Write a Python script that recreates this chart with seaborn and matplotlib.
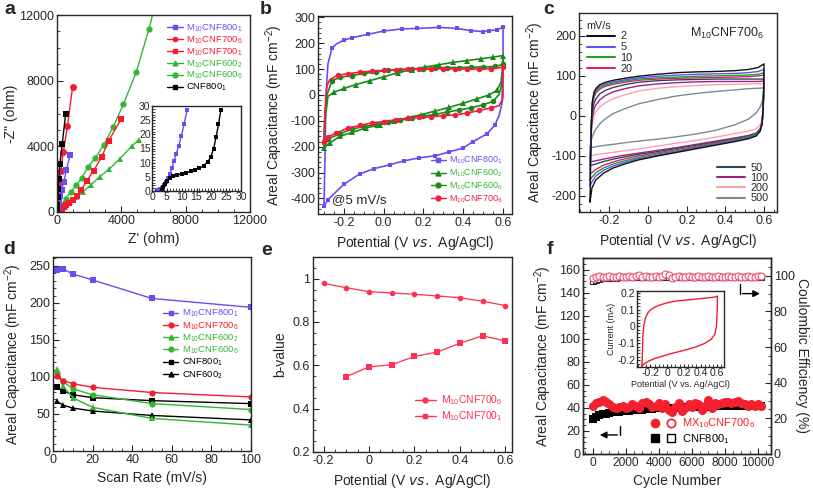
import numpy as np
import pandas as pd
import matplotlib
matplotlib.use('Agg')
import matplotlib.pyplot as plt
import seaborn as sns
from matplotlib.lines import Line2D
from matplotlib.ticker import MultipleLocator, FuncFormatter, AutoMinorLocator
from matplotlib.legend_handler import HandlerTuple

# ---------------- data ----------------
# a: Nyquist plots (Z', -Z'') in ohm
a_800_1_x = [20, 50, 90, 140, 200, 280, 430, 580, 820]
a_800_1_y = [20, 150, 400, 700, 1000, 1370, 1850, 2550, 3500]
a_cnf800_x = [10, 25, 45, 70, 100, 175, 325, 540]
a_cnf800_y = [100, 450, 900, 1400, 2000, 2900, 4150, 6000]
a_700_6_x = [10, 30, 65, 150, 240, 390, 650, 970]
a_700_6_y = [300, 700, 1230, 1780, 2520, 3650, 5230, 7620]
a_700_1_x = [50, 150, 280, 420, 560, 720, 970, 1250, 1510, 1840, 2270, 2770, 3220, 4000]
a_700_1_y = [30, 100, 190, 300, 420, 560, 720, 960, 1330, 1890, 2500, 3340, 4350, 5680]
a_600_6_x = [50, 200, 540, 864, 1188, 1555, 1944, 2376, 2916, 3499, 4126, 4925, 5724, 6150]
a_600_6_y = [80, 300, 820, 1230, 1640, 2091, 2768, 3280, 4100, 5187, 6560, 8508, 11173, 12800]
a_600_2_x = [80, 250, 500, 800, 1200, 1600, 2100, 2657, 3240, 3888, 4644, 5080]
a_600_2_y = [40, 150, 330, 580, 900, 1230, 1650, 2153, 2604, 3219, 3998, 4410]
# a inset
ai_800_1_x = [2.0, 2.8, 3.5, 4.2, 4.8, 5.4, 6.0, 6.7, 7.4, 8.2, 9.0, 9.9, 10.8, 11.8]
ai_800_1_y = [0.2, 0.6, 1.2, 2.2, 3.3, 4.6, 6.0, 8.0, 10.5, 13.2, 16.0, 19.5, 23.5, 28.5]
ai_cnf_x = [3.3, 3.8, 4.3, 5.0, 6.0, 7.0, 8.5, 10.0, 11.5, 13.0, 14.5, 16.0, 17.5, 18.8, 19.8, 20.8, 21.6, 22.4, 23.2]
ai_cnf_y = [0.5, 1.5, 2.5, 3.5, 4.5, 5.2, 5.7, 6.1, 6.5, 6.9, 7.4, 8.0, 9.0, 10.3, 12.0, 15.0, 19.0, 23.5, 28.5]

# b: CV at 5 mV/s (closed loops)
b_800_1_x = [-0.30, -0.295, -0.29, -0.28, -0.26, -0.24, -0.20, -0.16, -0.08, 0.00, 0.09, 0.17, 0.28, 0.37, 0.44, 0.50, 0.53, 0.57, 0.60,
             0.60, 0.595, 0.58, 0.56, 0.52, 0.45, 0.40, 0.33, 0.26, 0.18, 0.10, 0.03, -0.05, -0.12, -0.20, -0.28, -0.30]
b_800_1_y = [-430, -250, 0, 120, 180, 196, 212, 221, 234, 247, 255, 257, 261, 257, 248, 245, 248, 252, 261,
             -5, -30, -80, -115, -150, -180, -205, -220, -235, -243, -255, -270, -285, -305, -345, -405, -430]
b_700_6_x = [-0.30, -0.295, -0.285, -0.27, -0.23, -0.18, -0.12, -0.06, 0.00, 0.06, 0.12, 0.18, 0.24, 0.30, 0.36, 0.42, 0.48, 0.54, 0.60,
             0.60, 0.595, 0.58, 0.54, 0.48, 0.42, 0.36, 0.30, 0.24, 0.18, 0.12, 0.06, 0.00, -0.06, -0.12, -0.18, -0.24, -0.28, -0.30]
b_700_6_y = [-180, -60, 35, 60, 76, 82, 88, 92, 95, 97, 99, 100, 101, 101, 100, 100, 100, 102, 107,
             107, -20, -42, -50, -60, -70, -77, -80, -84, -86, -90, -96, -103, -108, -118, -128, -148, -162, -180]
b_600_6_x = [-0.30, -0.295, -0.285, -0.26, -0.22, -0.16, -0.10, -0.04, 0.02, 0.08, 0.14, 0.20, 0.26, 0.32, 0.38, 0.44, 0.50, 0.56, 0.60,
             0.60, 0.597, 0.59, 0.58, 0.55, 0.50, 0.44, 0.38, 0.32, 0.26, 0.20, 0.14, 0.08, 0.02, -0.04, -0.10, -0.16, -0.22, -0.28, -0.30]
b_600_6_y = [-180, -80, 0, 55, 68, 75, 83, 88, 95, 98, 100, 102, 104, 106, 106, 107, 108, 110, 118,
             118, 80, 30, 2, -25, -38, -50, -58, -66, -75, -82, -90, -98, -105, -115, -122, -132, -150, -170, -180]
b_600_2_x = [-0.30, -0.295, -0.28, -0.25, -0.20, -0.14, -0.07, 0.00, 0.07, 0.14, 0.21, 0.28, 0.35, 0.42, 0.49, 0.55, 0.60,
             0.60, 0.597, 0.59, 0.57, 0.53, 0.47, 0.40, 0.33, 0.26, 0.19, 0.12, 0.05, -0.02, -0.09, -0.16, -0.22, -0.27, -0.30]
b_600_2_y = [-205, -100, -5, 10, 25, 40, 55, 70, 85, 98, 108, 117, 126, 133, 140, 146, 152,
             152, 100, 50, 18, 0, -15, -32, -48, -62, -76, -88, -102, -115, -128, -145, -160, -185, -205]

# c: CVs of M10CNF700_6 at different scan rates
c_up_x = [-0.30, -0.297, -0.293, -0.288, -0.28, -0.27, -0.25, -0.22, -0.18, -0.12, -0.05, 0.05, 0.15, 0.25, 0.35, 0.45, 0.52, 0.57, 0.60]
c_dn_x = [0.60, 0.598, 0.595, 0.59, 0.58, 0.56, 0.52, 0.45, 0.35, 0.25, 0.15, 0.05, -0.05, -0.12, -0.18, -0.23, -0.27, -0.29, -0.30]
c_rates = ['2', '5', '10', '20', '50', '100', '200', '500']
c_up = {
    '2': [-215, -120, -20, 35, 58, 68, 78, 84, 89, 94, 99, 104, 108, 110, 111, 113, 116, 121, 130],
    '5': [-175, -100, -15, 35, 55, 65, 74, 80, 85, 90, 95, 99, 102, 104, 105, 106, 108, 111, 116],
    '10': [-160, -95, -15, 30, 52, 62, 71, 77, 82, 87, 92, 95, 97, 99, 100, 101, 102, 104, 108],
    '20': [-145, -90, -20, 22, 45, 57, 67, 74, 79, 84, 89, 92, 94, 95, 96, 97, 98, 100, 102],
    '50': [-125, -80, -25, 10, 30, 42, 55, 64, 71, 78, 84, 88, 90, 91, 92, 92, 92, 92, 92],
    '100': [-115, -80, -35, -5, 15, 27, 40, 51, 60, 68, 75, 80, 83, 85, 86, 86, 86, 86, 87],
    '200': [-100, -75, -45, -20, 0, 10, 22, 33, 43, 53, 62, 69, 73, 76, 78, 79, 80, 80, 80],
    '500': [-80, -70, -60, -52, -42, -33, -20, -7, 6, 18, 30, 41, 50, 56, 61, 65, 68, 69, 70],
}
c_dn = {
    '2': [130, 70, 20, -20, -38, -50, -57, -64, -73, -82, -91, -100, -110, -120, -130, -143, -160, -180, -215],
    '5': [116, 65, 18, -18, -36, -48, -55, -62, -71, -80, -89, -98, -107, -116, -125, -136, -150, -165, -175],
    '10': [108, 62, 16, -18, -35, -46, -53, -60, -69, -78, -87, -95, -104, -112, -120, -130, -142, -153, -160],
    '20': [102, 58, 12, -20, -36, -46, -52, -58, -67, -76, -84, -92, -100, -107, -115, -123, -134, -141, -145],
    '50': [92, 55, 15, -15, -32, -43, -50, -56, -65, -73, -81, -89, -96, -102, -108, -114, -120, -123, -125],
    '100': [87, 50, 10, -18, -33, -43, -49, -55, -63, -71, -79, -86, -93, -98, -103, -108, -112, -114, -115],
    '200': [80, 50, 15, -8, -22, -32, -38, -44, -53, -61, -68, -75, -82, -87, -91, -94, -97, -99, -100],
    '500': [70, 55, 45, 35, 22, 8, -8, -22, -36, -45, -52, -58, -63, -67, -71, -74, -77, -79, -80],
}
c_colors = {'2': '#111111', '5': '#5a55f0', '10': '#22a02a', '20': '#e0206a',
            '50': '#2d4a5a', '100': '#a0208a', '200': '#ffa0b0', '500': '#7a8a95'}

# d: capacitance vs scan rate
d_rate = [2, 5, 10, 20, 50, 100]
d_800_1 = [244, 246, 239, 231, 206, 194]
d_700_6 = [101, 95, 91, 86, 79, 73]
d_600_2 = [111, 88, 72, 59, 44, 35]
d_600_6 = [106, 94, 84, 76, 64, 56]
d_cnf800 = [87, 81, 76, 72, 68, 64]
d_cnf600 = [67, 62, 58, 54, 48, 42]

# e: b-values
e_pot6 = [-0.2, -0.1, 0.0, 0.1, 0.2, 0.3, 0.4, 0.5, 0.6]
e_b6 = [0.978, 0.958, 0.94, 0.934, 0.928, 0.92, 0.912, 0.896, 0.876]
e_pot1 = [-0.1, 0.0, 0.1, 0.2, 0.3, 0.4, 0.5, 0.6]
e_b1 = [0.548, 0.593, 0.603, 0.641, 0.661, 0.702, 0.736, 0.713]

# f: cycling
f_cycle = list(range(0, 10201, 200))
f_red_cap = [42, 44, 45, 47, 45, 43, 41, 40, 41, 42, 40, 41, 43, 42, 40, 44, 45, 43, 41, 42,
             44, 40, 43, 38, 36, 41, 44, 37, 40, 43, 41, 44, 43, 38, 42, 47, 40, 44, 43, 44,
             45, 45, 44, 45, 46, 44, 43, 42, 43, 42, 43, 42]
f_blk_cap = [30, 32, 33.5, 34.5, 35, 35.5, 36, 36, 36.5, 37, 37, 37.5, 38, 38, 38.5, 38.5, 39, 39, 39, 39.5,
             39.5, 39.5, 40, 40, 40, 40, 40.5, 40.5, 40.5, 40.5, 41, 41, 41, 41, 41, 41, 41.5, 41.5, 41.5, 41.5,
             41.5, 41.5, 42, 42, 42, 42, 42, 42, 42, 42, 42, 42]
f_red_ce = [99, 99.5, 100, 99.5, 99.5, 100, 99.5, 99.5, 100, 99.5, 99.5, 100, 99.5, 100, 100.5, 99.5, 100, 99.5, 99.5, 100,
            99.5, 100, 101, 100.5, 99, 99.5, 100, 99.5, 99.5, 100, 99.5, 99.5, 100, 99.5, 99.5, 100, 99.5, 99.5, 100, 99.5,
            99.5, 100, 99.5, 99.5, 100, 99.5, 99.5, 100, 99.5, 99.5, 100, 100]
f_blk_ce = [97, 97.5, 98, 98.5, 98.5, 99, 99, 99] + [99.5] * 44
# f inset CV (mA)
fi_x = [-0.30, -0.295, -0.29, -0.28, -0.26, -0.23, -0.20, -0.15, -0.10, 0.00, 0.10, 0.20, 0.30, 0.40, 0.50, 0.57, 0.60,
        0.60, 0.595, 0.59, 0.57, 0.53, 0.45, 0.35, 0.25, 0.15, 0.05, -0.05, -0.15, -0.22, -0.27, -0.30]
fi_y = [-0.235, -0.15, -0.06, 0.0, 0.05, 0.08, 0.098, 0.113, 0.125, 0.14, 0.15, 0.155, 0.16, 0.165, 0.17, 0.174, 0.18,
        0.12, 0.05, 0.0, -0.045, -0.075, -0.1, -0.12, -0.135, -0.148, -0.16, -0.175, -0.19, -0.205, -0.22, -0.235]

# ---------------- style ----------------
sns.set_style('ticks')
plt.rcParams['font.family'] = ['Liberation Sans', 'DejaVu Sans']
plt.rcParams['mathtext.default'] = 'regular'
plt.rcParams['axes.unicode_minus'] = False
plt.rcParams['xtick.direction'] = 'in'
plt.rcParams['ytick.direction'] = 'in'
plt.rcParams['axes.linewidth'] = 1.0
plt.rcParams['xtick.major.size'] = 4
plt.rcParams['ytick.major.size'] = 4
plt.rcParams['xtick.minor.size'] = 2
plt.rcParams['ytick.minor.size'] = 2

TICK = 9
LAB = 10
BLUE = '#6b4cf2'
RED = '#f41c2c'
GREEN = '#34b534'
DGREEN = '#178a17'

L800_1 = r'M$_{10}$CNF800$_1$'
L700_6 = r'M$_{10}$CNF700$_6$'
L700_1 = r'M$_{10}$CNF700$_1$'
L600_2 = r'M$_{10}$CNF600$_2$'
L600_6 = r'M$_{10}$CNF600$_6$'
LC800 = r'CNF800$_1$'
LC600 = r'CNF600$_2$'
POT = r'Potential (V $\it{vs.}$ Ag/AgCl)'
AREAL = r'Areal Capacitance (mF cm$^{-2}$)'

fig = plt.figure(figsize=(8.13, 4.92), dpi=100)


def px_axes(l, t, r, b):
    return fig.add_axes([l / 813, 1 - b / 492, (r - l) / 813, (b - t) / 492])


def marks(x):
    # skip markers on the steep vertical parts of a CV loop
    idx = [0]
    for i in range(1, len(x)):
        if abs(x[i] - x[idx[-1]]) >= 0.03:
            idx.append(i)
    return idx


def curve(ax, x, y, color, marker=None, ms=3.5, lw=1.0, mfc=None, mev=None, z=2):
    sns.lineplot(x=x, y=y, ax=ax, sort=False, estimator=None, color=color, linewidth=lw,
                 marker=marker, markersize=ms, markeredgewidth=0.8 if mfc else 0,
                 markeredgecolor=color, markerfacecolor=mfc or color, markevery=mev,
                 legend=False, zorder=z)


def fmt(ax, size=TICK):
    ax.tick_params(labelsize=size, pad=2)
    ax.xaxis.set_minor_locator(AutoMinorLocator())
    ax.yaxis.set_minor_locator(AutoMinorLocator())


gfmt = FuncFormatter(lambda v, _: '%g' % round(v, 3))

# ---------------- a ----------------
ax = px_axes(57, 15, 250, 212)
curve(ax, a_600_6_x, a_600_6_y, GREEN, 'o', 4.5)
curve(ax, a_600_2_x, a_600_2_y, GREEN, '^', 4.5)
curve(ax, a_700_1_x, a_700_1_y, RED, 's', 4.5)
curve(ax, a_700_6_x, a_700_6_y, RED, 'o', 5)
curve(ax, a_800_1_x, a_800_1_y, BLUE, 's', 4.5)
curve(ax, a_cnf800_x, a_cnf800_y, 'black', 's', 4.5)
ax.set_xlim(0, 12000)
ax.set_ylim(0, 12000)
ax.xaxis.set_major_locator(MultipleLocator(4000))
ax.yaxis.set_major_locator(MultipleLocator(4000))
ax.set_xlabel("Z' (ohm)", fontsize=LAB)
ax.set_ylabel('-Z" (ohm)', fontsize=LAB, labelpad=1)
fmt(ax)
h = [Line2D([], [], color=BLUE, marker='s', ms=3.5, lw=1),
     Line2D([], [], color=RED, marker='o', ms=3, lw=1),
     Line2D([], [], color=RED, marker='s', ms=3.5, lw=1),
     Line2D([], [], color=GREEN, marker='^', ms=3.5, lw=1),
     Line2D([], [], color=GREEN, marker='o', ms=3.5, lw=1),
     Line2D([], [], color='black', marker='s', ms=3.5, lw=1)]
ax.legend(h, [L800_1, L700_6, L700_1, L600_2, L600_6, LC800], loc='upper right',
          frameon=False, fontsize=6.8, handlelength=1.6, handletextpad=0.4, labelspacing=0.05,
          borderaxespad=0.35, labelcolor=[BLUE, RED, RED, GREEN, GREEN, 'black'])

axi = px_axes(152, 106, 241, 191)
curve(axi, ai_800_1_x, ai_800_1_y, BLUE, 's', 3.5)
curve(axi, ai_cnf_x, ai_cnf_y, 'black', 's', 3.5)
axi.set_xlim(0, 30)
axi.set_ylim(0, 30)
axi.xaxis.set_major_locator(MultipleLocator(5))
axi.yaxis.set_major_locator(MultipleLocator(5))
fmt(axi, 7.5)
axi.tick_params(length=2.5, pad=1)

# ---------------- b ----------------
ax = px_axes(318, 16, 512, 214)
curve(ax, b_800_1_x, b_800_1_y, BLUE, 's', 3, 1.2, mev=marks(b_800_1_x))
curve(ax, b_600_2_x, b_600_2_y, DGREEN, '^', 4, 1.2, mev=marks(b_600_2_x))
curve(ax, b_600_6_x, b_600_6_y, DGREEN, 'o', 4, 1.2, mev=marks(b_600_6_x))
curve(ax, b_700_6_x, b_700_6_y, '#f21d3c', 'o', 4, 1.2, mev=marks(b_700_6_x))
ax.set_xlim(-0.33, 0.645)
ax.set_ylim(-460, 305)
ax.xaxis.set_major_locator(MultipleLocator(0.2))
ax.yaxis.set_major_locator(MultipleLocator(100))
ax.xaxis.set_major_formatter(FuncFormatter(lambda v, _: '%.1f' % v))
ax.set_xlabel(POT, fontsize=LAB)
ax.set_ylabel(AREAL, fontsize=LAB)
fmt(ax)
ax.text(-0.26, -405, '@5 mV/s', fontsize=9.5, va='center')
h = [Line2D([], [], color=BLUE, marker='s', ms=3, lw=1),
     Line2D([], [], color=DGREEN, marker='^', ms=3.5, lw=1),
     Line2D([], [], color=DGREEN, marker='o', ms=3.5, lw=1),
     Line2D([], [], color='#f21d3c', marker='o', ms=3.5, lw=1)]
ax.legend(h, [L800_1, L600_2, L600_6, L700_6], loc='lower right', frameon=False,
          fontsize=6.5, handlelength=1.6, handletextpad=0.4, labelspacing=0.15,
          borderaxespad=0.6, labelcolor=[BLUE, GREEN, GREEN, '#f21d3c'])

# ---------------- c ----------------
ax = px_axes(579, 13, 777, 212)
for r in c_rates[::-1]:
    curve(ax, c_up_x + c_dn_x, c_up[r] + c_dn[r], c_colors[r], lw=1.0)
ax.set_xlim(-0.357, 0.667)
ax.set_ylim(-240, 257)
ax.xaxis.set_major_locator(MultipleLocator(0.2))
ax.yaxis.set_major_locator(MultipleLocator(100))
ax.xaxis.set_major_formatter(gfmt)
ax.set_xlabel(POT, fontsize=LAB)
ax.set_ylabel(AREAL, fontsize=LAB)
fmt(ax)
ax.text(0.6, 205, L700_6, fontsize=9, ha='right', va='center')
hc = [Line2D([], [], color=c_colors[r], lw=1.5) for r in c_rates]
leg1 = ax.legend(hc[:4], c_rates[:4], loc='upper left', title='mV/s', frameon=False,
                 fontsize=7.8, title_fontsize=7.8, handlelength=2.6, handletextpad=0.5,
                 labelspacing=0.08, borderaxespad=0.3, borderpad=0.4)
leg1._legend_box.align = 'left'
ax.add_artist(leg1)
ax.legend(hc[4:], c_rates[4:], loc='lower right', frameon=False, fontsize=7.8,
          handlelength=2.6, handletextpad=0.5, labelspacing=0.02, borderaxespad=0.4)

# ---------------- d ----------------
ax = px_axes(53, 257, 251, 451)
curve(ax, d_rate, d_cnf600, 'black', '^', 4.5)
curve(ax, d_rate, d_cnf800, 'black', 's', 4.5)
curve(ax, d_rate, d_600_2, GREEN, '^', 4.5)
curve(ax, d_rate, d_600_6, GREEN, 'o', 4.5)
curve(ax, d_rate, d_700_6, RED, 'o', 4.5)
curve(ax, d_rate, d_800_1, BLUE, 's', 4.5)
ax.set_xlim(0, 100)
ax.set_ylim(0, 262)
ax.xaxis.set_major_locator(MultipleLocator(20))
ax.yaxis.set_major_locator(MultipleLocator(50))
ax.set_xlabel('Scan Rate (mV/s)', fontsize=LAB)
ax.set_ylabel(AREAL, fontsize=LAB)
fmt(ax)
h = [Line2D([], [], color=BLUE, marker='s', ms=3.5, lw=1),
     Line2D([], [], color=RED, marker='o', ms=3.5, lw=1),
     Line2D([], [], color=GREEN, marker='^', ms=3.5, lw=1),
     Line2D([], [], color=GREEN, marker='o', ms=3.5, lw=1),
     Line2D([], [], color='black', marker='s', ms=3.5, lw=1),
     Line2D([], [], color='black', marker='^', ms=3.5, lw=1)]
ax.legend(h, [L800_1, L700_6, L600_2, L600_6, LC800, LC600], loc='center right',
          bbox_to_anchor=(0.98, 0.55), frameon=False, fontsize=6.8, handlelength=1.6,
          handletextpad=0.4, labelspacing=0.08,
          labelcolor=[BLUE, RED, GREEN, GREEN, 'black', 'black'])

# ---------------- e ----------------
ECOL = '#ff3050'
ax = px_axes(313, 257, 512, 452)
curve(ax, e_pot6, e_b6, ECOL, 'o', 4, 0.9)
curve(ax, e_pot1, e_b1, ECOL, 's', 4, 0.9)
ax.set_xlim(-0.247, 0.63)
ax.set_ylim(0.2, 1.1)
ax.xaxis.set_major_locator(MultipleLocator(0.2))
ax.yaxis.set_major_locator(MultipleLocator(0.2))
ax.xaxis.set_major_formatter(gfmt)
ax.yaxis.set_major_formatter(gfmt)
ax.set_xlabel(POT, fontsize=LAB)
ax.set_ylabel('b-value', fontsize=LAB)
fmt(ax)
h = [Line2D([], [], color=ECOL, marker='o', ms=3.5, lw=1),
     Line2D([], [], color=ECOL, marker='s', ms=3.5, lw=1)]
ax.legend(h, [L700_6, L700_1], loc='lower right', bbox_to_anchor=(1.0, 0.1), frameon=False,
          fontsize=7.5, handlelength=2.0, handletextpad=0.5, labelspacing=0.2,
          labelcolor=[ECOL, ECOL])

# ---------------- f ----------------
FRED = '#f42030'
ax = px_axes(583, 258, 771, 454)
ax2 = ax.twinx()
curve(ax, f_cycle, f_blk_cap, 'black', 's', 5.5, 1)
curve(ax, f_cycle, f_red_cap, FRED, 'o', 6.5, 1)
curve(ax2, f_cycle, f_blk_ce, '#333333', 's', 5, 0.8, mfc='white')
curve(ax2, f_cycle, f_red_ce, '#f05070', 'o', 5, 0.8, mfc='white')
ax.set_xlim(-600, 10800)
ax.set_ylim(0, 170)
ax2.set_ylim(0, 110)
ax.xaxis.set_major_locator(MultipleLocator(2000))
ax.yaxis.set_major_locator(MultipleLocator(20))
ax2.yaxis.set_major_locator(MultipleLocator(20))
ax.set_xlabel('Cycle Number', fontsize=LAB)
ax.set_ylabel(AREAL, fontsize=LAB)
ax2.set_ylabel('Coulombic Efficiency (%)', fontsize=LAB, rotation=270, labelpad=10)
fmt(ax)
ax.tick_params(axis='x', labelsize=8.6)
ax2.tick_params(labelsize=TICK, pad=2)
ax2.yaxis.set_minor_locator(AutoMinorLocator())
ax.annotate('', xy=(250, 16.5), xytext=(1650, 16.5),
            arrowprops=dict(arrowstyle='-|>', color='black', lw=1, mutation_scale=10))
ax.plot([1650, 1650], [16.5, 24.5], color='black', lw=1)
ax2.annotate('', xy=(10300, 90), xytext=(8900, 90),
             arrowprops=dict(arrowstyle='-|>', color='black', lw=1, mutation_scale=10))
ax2.plot([8900, 8900], [90, 95.5], color='black', lw=1)
h = [(Line2D([], [], color=FRED, marker='o', ms=6, ls='none'),
      Line2D([], [], color=FRED, marker='o', ms=6, ls='none', mfc='white', mew=1.2)),
     (Line2D([], [], color='black', marker='s', ms=5.5, ls='none'),
      Line2D([], [], color='black', marker='s', ms=5.5, ls='none', mfc='white', mew=1))]
ax2.legend(h, [r'MX$_{10}$CNF700$_6$', LC800], loc='lower right', bbox_to_anchor=(0.97, -0.01),
           frameon=False, fontsize=8, handlelength=2.4, handletextpad=0.5, labelspacing=0.15,
           handler_map={tuple: HandlerTuple(ndivide=None, pad=0.5)}, labelcolor=[FRED, 'black'])

axi = px_axes(637, 291, 724, 367)
curve(axi, fi_x, fi_y, '#ee2030', lw=1.0)
axi.set_xlim(-0.36, 0.68)
axi.set_ylim(-0.24, 0.21)
axi.xaxis.set_major_locator(MultipleLocator(0.2))
axi.yaxis.set_major_locator(MultipleLocator(0.1))
axi.xaxis.set_major_formatter(gfmt)
axi.yaxis.set_major_formatter(gfmt)
fmt(axi, 7.5)
axi.tick_params(length=2.5, pad=1)
axi.set_xlabel(r'Potential (V vs. Ag/AgCl)', fontsize=6.5, labelpad=1)
axi.set_ylabel('Current (mA)', fontsize=6.5, labelpad=1)

# panel letters
for letter, x, y in [('a', 10, 9), ('b', 266, 9), ('c', 549, 10),
                     ('d', 9, 249), ('e', 267, 250), ('f', 550, 249)]:
    fig.text(x / 813, 1 - y / 492, letter, fontsize=14, fontweight='bold', va='center', ha='center')

fig.savefig('out.png', dpi=100)
